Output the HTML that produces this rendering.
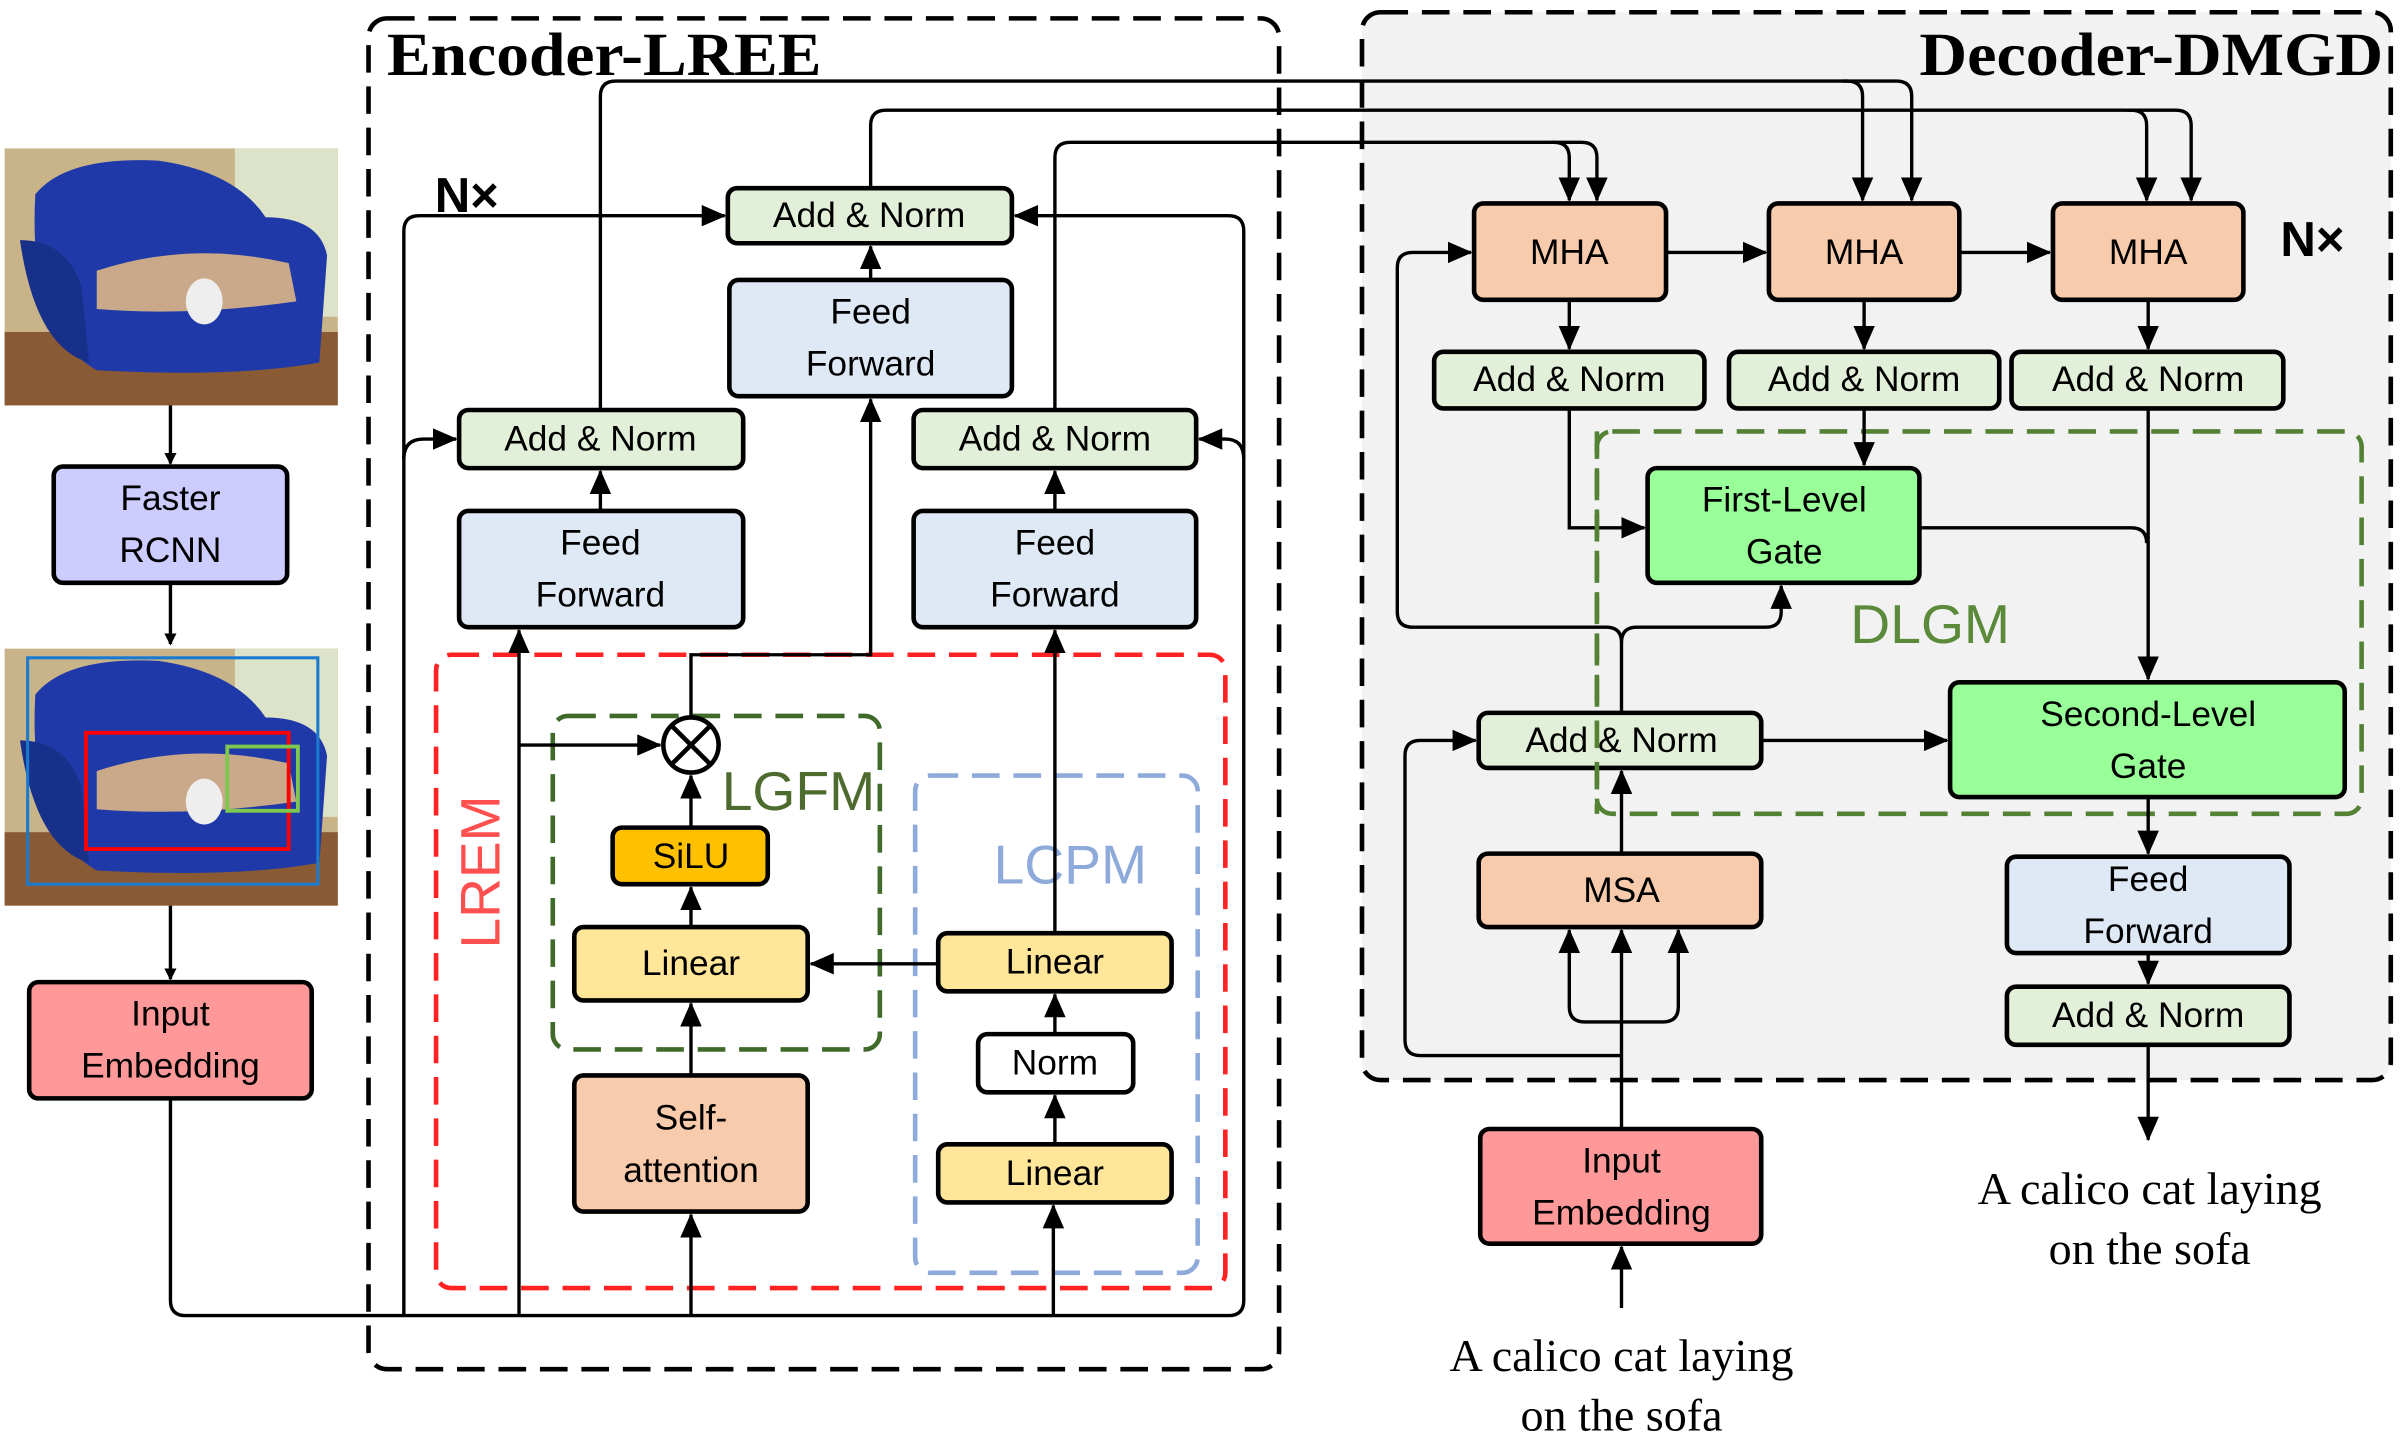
<!DOCTYPE html>
<html><head><meta charset="utf-8"><style>
html,body{margin:0;padding:0;background:#fff}
svg{display:block}
text{font-family:"Liberation Sans",sans-serif;font-size:23px;fill:#000;text-anchor:middle;dominant-baseline:central}
.s{font-family:"Liberation Serif",serif}
.b{stroke:#000;stroke-width:3}
.l{stroke:#000;stroke-width:2.2;fill:none}
</style></head><body>
<svg width="2400" height="1438" viewBox="0 0 1563 940" preserveAspectRatio="none" xmlns="http://www.w3.org/2000/svg">
<defs>
<marker id="a" markerWidth="8" markerHeight="8" refX="7" refY="4" orient="auto" markerUnits="userSpaceOnUse" viewBox="0 0 8 8"><path d="M0,0 L8,4 L0,8 z" fill="#000"/></marker>
<marker id="A" markerWidth="16" markerHeight="14" refX="15" refY="7" orient="auto" markerUnits="userSpaceOnUse" viewBox="0 0 16 14"><path d="M0,0 L16,7 L0,14 z" fill="#000"/></marker>
<g id="pic">
<rect x="0" y="0" width="217" height="168" fill="#c9b48a"/>
<rect x="150" y="0" width="67" height="110" fill="#dde3c8"/>
<rect x="0" y="120" width="217" height="48" fill="#8a5a35"/>
<path d="M20,30 Q40,5 100,8 Q150,15 170,45 Q205,45 210,70 L205,140 Q150,150 60,145 Q15,120 20,30z" fill="#1f3aa8"/>
<path d="M10,60 Q40,60 50,90 L55,140 Q20,130 10,60z" fill="#17308a"/>
<path d="M60,80 Q120,60 185,75 L190,100 Q120,110 60,105z" fill="#c9a98a"/>
<ellipse cx="130" cy="100" rx="12" ry="15" fill="#eee"/>
</g>
</defs>
<rect x="887" y="8" width="670" height="698" rx="12" fill="#f2f2f2" stroke="#000" stroke-width="3" stroke-dasharray="18,9"/>
<rect x="240" y="12" width="593" height="883" rx="12" fill="none" stroke="#000" stroke-width="3" stroke-dasharray="18,9"/>
<text class="s" x="252" y="36" textLength="283" lengthAdjust="spacingAndGlyphs" style="font-size:40px;font-weight:bold;text-anchor:start">Encoder-LREE</text>
<text class="s" x="1250" y="36" textLength="302" lengthAdjust="spacingAndGlyphs" style="font-size:40px;font-weight:bold;text-anchor:start">Decoder-DMGD</text>
<text x="304" y="128" style="font-size:32px;font-weight:bold">N×</text>
<text x="1506" y="157" style="font-size:32px;font-weight:bold">N×</text>
<use href="#pic" x="3" y="97"/>
<use href="#pic" x="3" y="424"/>
<rect x="18" y="430" width="189" height="148" fill="none" stroke="#1a7ad0" stroke-width="2"/>
<rect x="56" y="479" width="132" height="76" fill="none" stroke="#f00" stroke-width="2.5"/>
<rect x="148" y="488" width="46" height="42" fill="none" stroke="#7ec850" stroke-width="2.5"/>
<rect x="284" y="428" width="514" height="414" rx="10" fill="none" stroke="#f22" stroke-width="3" stroke-dasharray="18,9"/>
<rect x="360" y="468" width="213" height="218" rx="10" fill="none" stroke="#3f6a2a" stroke-width="3" stroke-dasharray="18,9"/>
<rect x="596" y="507" width="184" height="325" rx="10" fill="none" stroke="#8eaadb" stroke-width="3" stroke-dasharray="18,9"/>
<rect x="1040" y="282" width="498" height="250" rx="10" fill="none" stroke="#548235" stroke-width="3" stroke-dasharray="18,9"/>
<text x="313" y="570" transform="rotate(-90 313 570)" style="font-size:36px;fill:#ff5050">LREM</text>
<text x="520" y="517" style="font-size:36px;fill:#4e6b2f">LGFM</text>
<text x="697" y="565" style="font-size:36px;fill:#8eaadb">LCPM</text>
<text x="1257" y="408" style="font-size:36px;fill:#5a8a3a">DLGM</text>
<path class="l" d="M111,265 V303" marker-end="url(#a)"/>
<path class="l" d="M111,381 V421" marker-end="url(#a)"/>
<path class="l" d="M111,592 V640" marker-end="url(#a)"/>
<path class="l" d="M111,718 V850 Q111,860 121,860 H800 Q810,860 810,850 V151 Q810,141 800,141 H661" marker-end="url(#A)"/>
<path class="l" d="M810,300 Q810,287 798,287 H781" marker-end="url(#A)"/>
<path class="l" d="M263,860 V151 Q263,141 273,141 H472" marker-end="url(#A)"/>
<path class="l" d="M263,300 Q263,287 276,287 H297" marker-end="url(#A)"/>
<path class="l" d="M338,860 V412" marker-end="url(#A)"/>
<path class="l" d="M338,487 H430" marker-end="url(#A)"/>
<path class="l" d="M450,860 V794" marker-end="url(#A)"/>
<path class="l" d="M686,860 V788" marker-end="url(#A)"/>
<path class="l" d="M450,703 V656" marker-end="url(#A)"/>
<path class="l" d="M450,606 V580" marker-end="url(#A)"/>
<path class="l" d="M450,541 V507" marker-end="url(#A)"/>
<path class="l" d="M450,469 V428 H567 V261" marker-end="url(#A)"/>
<path class="l" d="M611,630 H528" marker-end="url(#A)"/>
<path class="l" d="M687,610 V412" marker-end="url(#A)"/>
<path class="l" d="M687,676 V650" marker-end="url(#A)"/>
<path class="l" d="M687,748 V716" marker-end="url(#A)"/>
<path class="l" d="M391,334 V308" marker-end="url(#A)"/>
<path class="l" d="M687,334 V308" marker-end="url(#A)"/>
<path class="l" d="M567,183 V161" marker-end="url(#A)"/>
<path class="l" d="M391,268 V63 Q391,53 401,53 H1203 Q1213,53 1213,63 V131" marker-end="url(#A)"/>
<path class="l" d="M1200,53 H1235 Q1245,53 1245,63 V131" marker-end="url(#A)"/>
<path class="l" d="M567,123 V82 Q567,72 577,72 H1388 Q1398,72 1398,82 V131" marker-end="url(#A)"/>
<path class="l" d="M1385,72 H1417 Q1427,72 1427,82 V131" marker-end="url(#A)"/>
<path class="l" d="M687,268 V103 Q687,93 697,93 H1012 Q1022,93 1022,103 V131" marker-end="url(#A)"/>
<path class="l" d="M1010,93 H1030 Q1040,93 1040,103 V131" marker-end="url(#A)"/>
<path class="l" d="M1085,165 H1150" marker-end="url(#A)"/>
<path class="l" d="M1276,165 H1335" marker-end="url(#A)"/>
<path class="l" d="M1022,196 V228" marker-end="url(#A)"/>
<path class="l" d="M1214,196 V228" marker-end="url(#A)"/>
<path class="l" d="M1399,196 V228" marker-end="url(#A)"/>
<path class="l" d="M1022,267 V345 H1071" marker-end="url(#A)"/>
<path class="l" d="M1214,267 V304" marker-end="url(#A)"/>
<path class="l" d="M1399,267 V444" marker-end="url(#A)"/>
<path class="l" d="M1250,345 H1388 Q1398,345 1398,355"/>
<path class="l" d="M1056,466 V420 Q1056,410 1046,410 H920 Q910,410 910,400 V175 Q910,165 920,165 H958" marker-end="url(#A)"/>
<path class="l" d="M1056,420 Q1056,410 1066,410 H1150 Q1160,410 1160,400 V383" marker-end="url(#A)"/>
<path class="l" d="M1147,484 H1268" marker-end="url(#A)"/>
<path class="l" d="M1399,521 V558" marker-end="url(#A)"/>
<path class="l" d="M1399,623 V643" marker-end="url(#A)"/>
<path class="l" d="M1399,683 V745" marker-end="url(#A)"/>
<path class="l" d="M1056,558 V504" marker-end="url(#A)"/>
<path class="l" d="M1056,738 V608" marker-end="url(#A)"/>
<path class="l" d="M1056,668 H1032 Q1022,668 1022,658 V608" marker-end="url(#A)"/>
<path class="l" d="M1056,668 H1083 Q1093,668 1093,658 V608" marker-end="url(#A)"/>
<path class="l" d="M1056,690 H925 Q915,690 915,680 V494 Q915,484 925,484 H961" marker-end="url(#A)"/>
<path class="l" d="M1056,855 V815" marker-end="url(#A)"/>
<g class="b">
<rect x="35" y="305" width="152" height="76" rx="6" fill="#ccccff"/>
<rect x="19" y="642" width="184" height="76" rx="6" fill="#ff9999"/>
<rect x="474" y="123" width="185" height="36" rx="6" fill="#e2efd9"/>
<rect x="475" y="183" width="184" height="76" rx="6" fill="#dee9f5"/>
<rect x="299" y="268" width="185" height="38" rx="6" fill="#e2efd9"/>
<rect x="299" y="334" width="185" height="76" rx="6" fill="#dee9f5"/>
<rect x="595" y="268" width="184" height="38" rx="6" fill="#e2efd9"/>
<rect x="595" y="334" width="184" height="76" rx="6" fill="#dee9f5"/>
<rect x="399" y="541" width="101" height="37" rx="6" fill="#ffc000"/>
<rect x="374" y="606" width="152" height="48" rx="6" fill="#ffe699"/>
<rect x="374" y="703" width="152" height="89" rx="6" fill="#f8cbad"/>
<rect x="611" y="610" width="152" height="38" rx="6" fill="#ffe699"/>
<rect x="637" y="676" width="101" height="38" rx="6" fill="#fff"/>
<rect x="611" y="748" width="152" height="38" rx="6" fill="#ffe699"/>
<circle cx="450" cy="487" r="18" fill="#fff"/>
<rect x="960" y="133" width="125" height="63" rx="6" fill="#f8cbad"/>
<rect x="1152" y="133" width="124" height="63" rx="6" fill="#f8cbad"/>
<rect x="1337" y="133" width="124" height="63" rx="6" fill="#f8cbad"/>
<rect x="934" y="230" width="176" height="37" rx="6" fill="#e2efd9"/>
<rect x="1126" y="230" width="176" height="37" rx="6" fill="#e2efd9"/>
<rect x="1310" y="230" width="177" height="37" rx="6" fill="#e2efd9"/>
<rect x="1073" y="306" width="177" height="75" rx="6" fill="#99ff99"/>
<rect x="1270" y="446" width="257" height="75" rx="6" fill="#99ff99"/>
<rect x="963" y="466" width="184" height="36" rx="6" fill="#e2efd9"/>
<rect x="963" y="558" width="184" height="48" rx="6" fill="#f8cbad"/>
<rect x="1307" y="560" width="184" height="63" rx="6" fill="#dee9f5"/>
<rect x="1307" y="645" width="184" height="38" rx="6" fill="#e2efd9"/>
<rect x="964" y="738" width="183" height="75" rx="6" fill="#ff9999"/>
</g>
<path d="M437,474 L463,500 M463,474 L437,500" stroke="#000" stroke-width="3"/>
<path d="M1040,282 V532" stroke="#548235" stroke-width="3" stroke-dasharray="18,9" fill="none"/>
<text x="111" y="326">Faster</text><text x="111" y="360">RCNN</text>
<text x="111" y="663">Input</text><text x="111" y="697">Embedding</text>
<text x="566" y="141">Add &amp; Norm</text>
<text x="567" y="204">Feed</text><text x="567" y="238">Forward</text>
<text x="391" y="287">Add &amp; Norm</text>
<text x="391" y="355">Feed</text><text x="391" y="389">Forward</text>
<text x="687" y="287">Add &amp; Norm</text>
<text x="687" y="355">Feed</text><text x="687" y="389">Forward</text>
<text x="450" y="560">SiLU</text>
<text x="450" y="630">Linear</text>
<text x="450" y="731">Self-</text><text x="450" y="765">attention</text>
<text x="687" y="629">Linear</text>
<text x="687" y="695">Norm</text>
<text x="687" y="767">Linear</text>
<text x="1022" y="165">MHA</text><text x="1214" y="165">MHA</text><text x="1399" y="165">MHA</text>
<text x="1022" y="248">Add &amp; Norm</text><text x="1214" y="248">Add &amp; Norm</text><text x="1399" y="248">Add &amp; Norm</text>
<text x="1162" y="327">First-Level</text><text x="1162" y="361">Gate</text>
<text x="1399" y="467">Second-Level</text><text x="1399" y="501">Gate</text>
<text x="1056" y="484">Add &amp; Norm</text>
<text x="1056" y="582">MSA</text>
<text x="1399" y="575">Feed</text><text x="1399" y="609">Forward</text>
<text x="1399" y="664">Add &amp; Norm</text>
<text x="1056" y="759">Input</text><text x="1056" y="793">Embedding</text>
<text class="s" x="1400" y="777" style="font-size:30px">A calico cat laying</text>
<text class="s" x="1400" y="816" style="font-size:30px">on the sofa</text>
<text class="s" x="1056" y="886" style="font-size:30px">A calico cat laying</text>
<text class="s" x="1056" y="925" style="font-size:30px">on the sofa</text>
</svg>
</body></html>
